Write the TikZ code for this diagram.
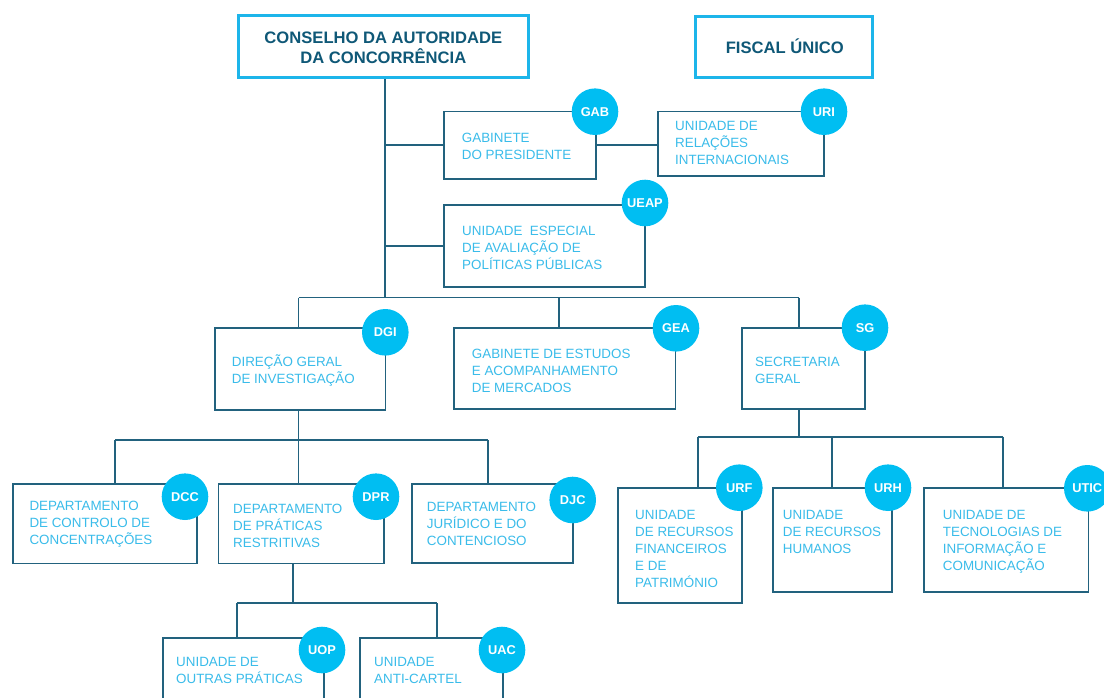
\documentclass[tikz,border=0pt]{standalone}
\usepackage{fontspec}
\setmainfont{Liberation Sans}
\usetikzlibrary{calc}
\definecolor{linec}{HTML}{22627E}
\definecolor{titlec}{HTML}{0F5877}
\definecolor{cyanb}{HTML}{1DB5EA}
\definecolor{circc}{HTML}{00BEF2}
\definecolor{textc}{HTML}{3ABCEA}
\begin{document}
\begin{tikzpicture}[x=1pt,y=-1pt,
  conn/.style={draw=linec, line width=1.7pt},
  unit/.style={draw=linec, line width=1.7pt, fill=white, rectangle, inner sep=0},
  topbox/.style={draw=cyanb, line width=3pt, rectangle, inner sep=0, fill=white},
  badge/.style={circle, fill=circc, minimum size=46.6pt, inner sep=0, text=white,
    font=\fontsize{12.8}{14}\selectfont\bfseries},
  lbl/.style={anchor=north west, inner sep=0, align=left, text=textc,
    font=\fontsize{13.4}{17}\selectfont},
  ttl/.style={inner sep=0, align=center, text=titlec,
    font=\fontsize{16.6}{20}\selectfont\bfseries}]
\useasboundingbox (0,0) rectangle (1104,698);

% top boxes
\node[topbox, minimum width=290pt, minimum height=62pt] (council) at (383.3,46.7) {};
\node[ttl, anchor=north] (t-council) at (383.3,29.3) {\rule{0pt}{14pt}CONSELHO DA AUTORIDADE\\DA CONCORRÊNCIA};
\node[topbox, minimum width=176.7pt, minimum height=61pt] (fiscal) at (784.3,47.2) {};
\node[ttl, anchor=base] (t-fiscal) at (784.8,53.3) {FISCAL ÚNICO};

% unit boxes
\node[unit, minimum width=152pt, minimum height=67.3pt] (gab) at (520,145.3) {};
\node[unit, minimum width=166pt, minimum height=64.3pt] (uri) at (741.3,143.8) {};
\node[unit, minimum width=201pt, minimum height=82pt] (ueap) at (544.5,246) {};
\node[unit, minimum width=170.3pt, minimum height=82.3pt] (dgi) at (300.2,368.8) {};
\node[unit, minimum width=221.3pt, minimum height=81pt] (gea) at (564.7,368.8) {};
\node[unit, minimum width=123.3pt, minimum height=81.6pt] (sg) at (803.3,368.5) {};
\node[unit, minimum width=184pt, minimum height=79.3pt] (dcc) at (105.3,523.7) {};
\node[unit, minimum width=165.7pt, minimum height=79.3pt] (dpr) at (301.2,523.7) {};
\node[unit, minimum width=161pt, minimum height=79pt] (djc) at (492.2,523.8) {};
\node[unit, minimum width=123.4pt, minimum height=114.4pt] (urf) at (680,545.5) {};
\node[unit, minimum width=119.6pt, minimum height=103.4pt] (urh) at (832.5,540) {};
\node[unit, minimum width=164.3pt, minimum height=103.4pt] (utic) at (1006.2,540) {};
\node[unit, minimum width=161pt, minimum height=74pt] (uop) at (243.5,675) {};
\node[unit, minimum width=143pt, minimum height=74pt] (uac) at (431.5,675) {};

% badges
\node[badge] (b-gab) at (595,111.7) {GAB};
\node[badge] (b-uri) at (824,111.7) {URI};
\node[badge] (b-ueap) at (645,203) {UEAP};
\node[badge] (b-dgi) at (385.3,332.3) {DGI};
\node[badge] (b-gea) at (676,328.3) {GEA};
\node[badge] (b-sg) at (865,327.7) {SG};
\node[badge] (b-dcc) at (185,496.7) {DCC};
\node[badge] (b-dpr) at (376,496.7) {DPR};
\node[badge] (b-djc) at (572.7,500) {DJC};
\node[badge] (b-urf) at (739.3,487.7) {URF};
\node[badge] (b-urh) at (888,487.7) {URH};
\node[badge] (b-utic) at (1087.3,488.3) {UTIC};
\node[badge] (b-uop) at (322,650) {UOP};
\node[badge] (b-uac) at (502,650) {UAC};

% labels
\node[lbl] (t-gab) at (461.7,128.7) {\rule{0pt}{14pt}GABINETE\\DO PRESIDENTE};
\node[lbl] (t-uri) at (675,116) {\rule{0pt}{14pt}UNIDADE DE\\RELAÇÕES\\INTERNACIONAIS};
\node[lbl] (t-ueap) at (462,221) {\rule{0pt}{14pt}UNIDADE\ \ ESPECIAL\\DE AVALIAÇÃO DE\\POLÍTICAS PÚBLICAS};
\node[lbl] (t-dgi) at (231.7,352) {\rule{0pt}{14pt}DIREÇÃO GERAL\\DE INVESTIGAÇÃO};
\node[lbl] (t-gea) at (471.7,344.3) {\rule{0pt}{14pt}GABINETE DE ESTUDOS\\E ACOMPANHAMENTO\\DE MERCADOS};
\node[lbl] (t-sg) at (755,352.7) {\rule{0pt}{14pt}SECRETARIA\\GERAL};
\node[lbl] (t-dcc) at (29.3,496) {\rule{0pt}{14pt}DEPARTAMENTO\\DE CONTROLO DE\\CONCENTRAÇÕES};
\node[lbl] (t-dpr) at (233,499.3) {\rule{0pt}{14pt}DEPARTAMENTO\\DE PRÁTICAS\\RESTRITIVAS};
\node[lbl] (t-djc) at (426.7,497.7) {\rule{0pt}{14pt}DEPARTAMENTO\\JURÍDICO E DO\\CONTENCIOSO};
\node[lbl] (t-urf) at (635,505.3) {\rule{0pt}{14pt}UNIDADE\\DE RECURSOS\\FINANCEIROS\\E DE\\PATRIMÓNIO};
\node[lbl] (t-urh) at (782.7,505.3) {\rule{0pt}{14pt}UNIDADE\\DE RECURSOS\\HUMANOS};
\node[lbl] (t-utic) at (942.7,505.3) {\rule{0pt}{14pt}UNIDADE DE\\TECNOLOGIAS DE\\INFORMAÇÃO E\\COMUNICAÇÃO};
\node[lbl] (t-uop) at (176,652) {\rule{0pt}{14pt}UNIDADE DE\\OUTRAS PRÁTICAS};
\node[lbl] (t-uac) at (374,652) {\rule{0pt}{14pt}UNIDADE\\ANTI-CARTEL};

% junction coordinates
\coordinate (j0) at (385.3,297.5);
\coordinate (b1l) at (298.5,297.5);
\coordinate (b1m) at (559,297.5);
\coordinate (b1r) at (799,297.5);
\coordinate (b2l) at (115.3,440);
\coordinate (b2m) at (298.5,440);
\coordinate (b2r) at (488.3,440);
\coordinate (b3t) at (799,436.7);
\coordinate (b3l) at (698.3,436.7);
\coordinate (b3m) at (832.3,436.7);
\coordinate (b3r) at (1003.3,436.7);
\coordinate (b4t) at (293.3,603);
\coordinate (b4l) at (237,603);
\coordinate (b4r) at (437,603);

% connectors
\draw[conn] (council.south -| j0) -- (j0);
\draw[conn] (j0 |- gab.west) -- (gab.west);
\draw[conn] (gab.east) -- (gab.east -| uri.west);
\draw[conn] (j0 |- ueap.west) -- (ueap.west);
\draw[conn] (b1l) -- (b1r);
\draw[conn] (b1l) -- (b1l |- dgi.north);
\draw[conn] (b1m) -- (b1m |- gea.north);
\draw[conn] (b1r) -- (b1r |- sg.north);
\draw[conn] (b2m |- dgi.south) -- (b2m);
\draw[conn] (b2l) -- (b2r);
\draw[conn] (b2l) -- (b2l |- dcc.north);
\draw[conn] (b2m) -- (b2m |- dpr.north);
\draw[conn] (b2r) -- (b2r |- djc.north);
\draw[conn] (b3t |- sg.south) -- (b3t);
\draw[conn] (b3l) -- (b3r);
\draw[conn] (b3l) -- (b3l |- urf.north);
\draw[conn] (b3m) -- (b3m |- urh.north);
\draw[conn] (b3r) -- (b3r |- utic.north);
\draw[conn] (b4t |- dpr.south) -- (b4t);
\draw[conn] (b4l) -- (b4r);
\draw[conn] (b4l) -- (b4l |- uop.north);
\draw[conn] (b4r) -- (b4r |- uac.north);
\end{tikzpicture}
\end{document}
